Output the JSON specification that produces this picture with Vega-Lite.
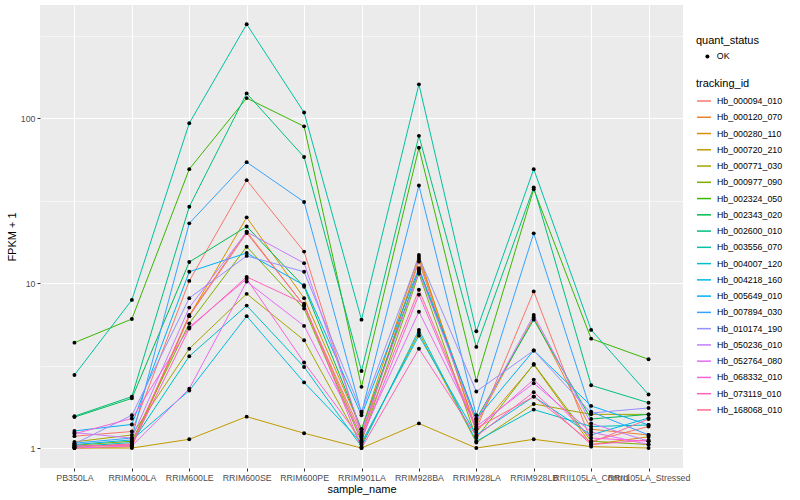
{
"$schema":"https://vega.github.io/schema/vega-lite/v6.json",
"width":643,"height":463,
"autosize":{"type":"none"},
"padding":{"left":40,"top":5,"right":117,"bottom":32},
"background":"white",
"config":{"view":{"fill":"#EBEBEB","stroke":null},"font":"Liberation Sans"},
"data":{"values":[
{"tracking_id":"Hb_000094_010","sample_name":"PB350LA","fpkm_plus_1":1.18,"quant_status":"OK"},
{"tracking_id":"Hb_000094_010","sample_name":"RRIM600LA","fpkm_plus_1":1.26,"quant_status":"OK"},
{"tracking_id":"Hb_000094_010","sample_name":"RRIM600LE","fpkm_plus_1":10.3,"quant_status":"OK"},
{"tracking_id":"Hb_000094_010","sample_name":"RRIM600SE","fpkm_plus_1":42,"quant_status":"OK"},
{"tracking_id":"Hb_000094_010","sample_name":"RRIM600PE","fpkm_plus_1":15.5,"quant_status":"OK"},
{"tracking_id":"Hb_000094_010","sample_name":"RRIM901LA","fpkm_plus_1":1.2,"quant_status":"OK"},
{"tracking_id":"Hb_000094_010","sample_name":"RRIM928BA","fpkm_plus_1":13.5,"quant_status":"OK"},
{"tracking_id":"Hb_000094_010","sample_name":"RRIM928LA","fpkm_plus_1":1.3,"quant_status":"OK"},
{"tracking_id":"Hb_000094_010","sample_name":"RRIM928LB","fpkm_plus_1":8.9,"quant_status":"OK"},
{"tracking_id":"Hb_000094_010","sample_name":"RRII105LA_Control","fpkm_plus_1":1.1,"quant_status":"OK"},
{"tracking_id":"Hb_000094_010","sample_name":"RRII105LA_Stressed","fpkm_plus_1":1.35,"quant_status":"OK"},
{"tracking_id":"Hb_000120_070","sample_name":"PB350LA","fpkm_plus_1":1.03,"quant_status":"OK"},
{"tracking_id":"Hb_000120_070","sample_name":"RRIM600LA","fpkm_plus_1":1.05,"quant_status":"OK"},
{"tracking_id":"Hb_000120_070","sample_name":"RRIM600LE","fpkm_plus_1":6.4,"quant_status":"OK"},
{"tracking_id":"Hb_000120_070","sample_name":"RRIM600SE","fpkm_plus_1":20.5,"quant_status":"OK"},
{"tracking_id":"Hb_000120_070","sample_name":"RRIM600PE","fpkm_plus_1":7.3,"quant_status":"OK"},
{"tracking_id":"Hb_000120_070","sample_name":"RRIM901LA","fpkm_plus_1":1.15,"quant_status":"OK"},
{"tracking_id":"Hb_000120_070","sample_name":"RRIM928BA","fpkm_plus_1":14.0,"quant_status":"OK"},
{"tracking_id":"Hb_000120_070","sample_name":"RRIM928LA","fpkm_plus_1":1.4,"quant_status":"OK"},
{"tracking_id":"Hb_000120_070","sample_name":"RRIM928LB","fpkm_plus_1":6.2,"quant_status":"OK"},
{"tracking_id":"Hb_000120_070","sample_name":"RRII105LA_Control","fpkm_plus_1":1.3,"quant_status":"OK"},
{"tracking_id":"Hb_000120_070","sample_name":"RRII105LA_Stressed","fpkm_plus_1":1.2,"quant_status":"OK"},
{"tracking_id":"Hb_000280_110","sample_name":"PB350LA","fpkm_plus_1":1.0,"quant_status":"OK"},
{"tracking_id":"Hb_000280_110","sample_name":"RRIM600LA","fpkm_plus_1":1.02,"quant_status":"OK"},
{"tracking_id":"Hb_000280_110","sample_name":"RRIM600LE","fpkm_plus_1":6.3,"quant_status":"OK"},
{"tracking_id":"Hb_000280_110","sample_name":"RRIM600SE","fpkm_plus_1":25,"quant_status":"OK"},
{"tracking_id":"Hb_000280_110","sample_name":"RRIM600PE","fpkm_plus_1":8.1,"quant_status":"OK"},
{"tracking_id":"Hb_000280_110","sample_name":"RRIM901LA","fpkm_plus_1":1.3,"quant_status":"OK"},
{"tracking_id":"Hb_000280_110","sample_name":"RRIM928BA","fpkm_plus_1":14.8,"quant_status":"OK"},
{"tracking_id":"Hb_000280_110","sample_name":"RRIM928LA","fpkm_plus_1":1.25,"quant_status":"OK"},
{"tracking_id":"Hb_000280_110","sample_name":"RRIM928LB","fpkm_plus_1":3.2,"quant_status":"OK"},
{"tracking_id":"Hb_000280_110","sample_name":"RRII105LA_Control","fpkm_plus_1":1.05,"quant_status":"OK"},
{"tracking_id":"Hb_000280_110","sample_name":"RRII105LA_Stressed","fpkm_plus_1":1.17,"quant_status":"OK"},
{"tracking_id":"Hb_000720_210","sample_name":"PB350LA","fpkm_plus_1":1.0,"quant_status":"OK"},
{"tracking_id":"Hb_000720_210","sample_name":"RRIM600LA","fpkm_plus_1":1.0,"quant_status":"OK"},
{"tracking_id":"Hb_000720_210","sample_name":"RRIM600LE","fpkm_plus_1":1.13,"quant_status":"OK"},
{"tracking_id":"Hb_000720_210","sample_name":"RRIM600SE","fpkm_plus_1":1.55,"quant_status":"OK"},
{"tracking_id":"Hb_000720_210","sample_name":"RRIM600PE","fpkm_plus_1":1.23,"quant_status":"OK"},
{"tracking_id":"Hb_000720_210","sample_name":"RRIM901LA","fpkm_plus_1":1.0,"quant_status":"OK"},
{"tracking_id":"Hb_000720_210","sample_name":"RRIM928BA","fpkm_plus_1":1.41,"quant_status":"OK"},
{"tracking_id":"Hb_000720_210","sample_name":"RRIM928LA","fpkm_plus_1":1.0,"quant_status":"OK"},
{"tracking_id":"Hb_000720_210","sample_name":"RRIM928LB","fpkm_plus_1":1.13,"quant_status":"OK"},
{"tracking_id":"Hb_000720_210","sample_name":"RRII105LA_Control","fpkm_plus_1":1.02,"quant_status":"OK"},
{"tracking_id":"Hb_000720_210","sample_name":"RRII105LA_Stressed","fpkm_plus_1":1.0,"quant_status":"OK"},
{"tracking_id":"Hb_000771_030","sample_name":"PB350LA","fpkm_plus_1":1.09,"quant_status":"OK"},
{"tracking_id":"Hb_000771_030","sample_name":"RRIM600LA","fpkm_plus_1":1.2,"quant_status":"OK"},
{"tracking_id":"Hb_000771_030","sample_name":"RRIM600LE","fpkm_plus_1":4.0,"quant_status":"OK"},
{"tracking_id":"Hb_000771_030","sample_name":"RRIM600SE","fpkm_plus_1":8.6,"quant_status":"OK"},
{"tracking_id":"Hb_000771_030","sample_name":"RRIM600PE","fpkm_plus_1":4.5,"quant_status":"OK"},
{"tracking_id":"Hb_000771_030","sample_name":"RRIM901LA","fpkm_plus_1":1.05,"quant_status":"OK"},
{"tracking_id":"Hb_000771_030","sample_name":"RRIM928BA","fpkm_plus_1":5.0,"quant_status":"OK"},
{"tracking_id":"Hb_000771_030","sample_name":"RRIM928LA","fpkm_plus_1":1.08,"quant_status":"OK"},
{"tracking_id":"Hb_000771_030","sample_name":"RRIM928LB","fpkm_plus_1":1.85,"quant_status":"OK"},
{"tracking_id":"Hb_000771_030","sample_name":"RRII105LA_Control","fpkm_plus_1":1.6,"quant_status":"OK"},
{"tracking_id":"Hb_000771_030","sample_name":"RRII105LA_Stressed","fpkm_plus_1":1.6,"quant_status":"OK"},
{"tracking_id":"Hb_000977_090","sample_name":"PB350LA","fpkm_plus_1":1.04,"quant_status":"OK"},
{"tracking_id":"Hb_000977_090","sample_name":"RRIM600LA","fpkm_plus_1":1.1,"quant_status":"OK"},
{"tracking_id":"Hb_000977_090","sample_name":"RRIM600LE","fpkm_plus_1":5.7,"quant_status":"OK"},
{"tracking_id":"Hb_000977_090","sample_name":"RRIM600SE","fpkm_plus_1":16.6,"quant_status":"OK"},
{"tracking_id":"Hb_000977_090","sample_name":"RRIM600PE","fpkm_plus_1":7.0,"quant_status":"OK"},
{"tracking_id":"Hb_000977_090","sample_name":"RRIM901LA","fpkm_plus_1":1.1,"quant_status":"OK"},
{"tracking_id":"Hb_000977_090","sample_name":"RRIM928BA","fpkm_plus_1":11.4,"quant_status":"OK"},
{"tracking_id":"Hb_000977_090","sample_name":"RRIM928LA","fpkm_plus_1":1.15,"quant_status":"OK"},
{"tracking_id":"Hb_000977_090","sample_name":"RRIM928LB","fpkm_plus_1":3.23,"quant_status":"OK"},
{"tracking_id":"Hb_000977_090","sample_name":"RRII105LA_Control","fpkm_plus_1":1.1,"quant_status":"OK"},
{"tracking_id":"Hb_000977_090","sample_name":"RRII105LA_Stressed","fpkm_plus_1":1.05,"quant_status":"OK"},
{"tracking_id":"Hb_002324_050","sample_name":"PB350LA","fpkm_plus_1":4.35,"quant_status":"OK"},
{"tracking_id":"Hb_002324_050","sample_name":"RRIM600LA","fpkm_plus_1":6.05,"quant_status":"OK"},
{"tracking_id":"Hb_002324_050","sample_name":"RRIM600LE","fpkm_plus_1":49,"quant_status":"OK"},
{"tracking_id":"Hb_002324_050","sample_name":"RRIM600SE","fpkm_plus_1":132,"quant_status":"OK"},
{"tracking_id":"Hb_002324_050","sample_name":"RRIM600PE","fpkm_plus_1":89,"quant_status":"OK"},
{"tracking_id":"Hb_002324_050","sample_name":"RRIM901LA","fpkm_plus_1":2.35,"quant_status":"OK"},
{"tracking_id":"Hb_002324_050","sample_name":"RRIM928BA","fpkm_plus_1":66,"quant_status":"OK"},
{"tracking_id":"Hb_002324_050","sample_name":"RRIM928LA","fpkm_plus_1":2.56,"quant_status":"OK"},
{"tracking_id":"Hb_002324_050","sample_name":"RRIM928LB","fpkm_plus_1":37,"quant_status":"OK"},
{"tracking_id":"Hb_002324_050","sample_name":"RRII105LA_Control","fpkm_plus_1":4.6,"quant_status":"OK"},
{"tracking_id":"Hb_002324_050","sample_name":"RRII105LA_Stressed","fpkm_plus_1":3.45,"quant_status":"OK"},
{"tracking_id":"Hb_002343_020","sample_name":"PB350LA","fpkm_plus_1":1.54,"quant_status":"OK"},
{"tracking_id":"Hb_002343_020","sample_name":"RRIM600LA","fpkm_plus_1":2.0,"quant_status":"OK"},
{"tracking_id":"Hb_002343_020","sample_name":"RRIM600LE","fpkm_plus_1":13.4,"quant_status":"OK"},
{"tracking_id":"Hb_002343_020","sample_name":"RRIM600SE","fpkm_plus_1":22,"quant_status":"OK"},
{"tracking_id":"Hb_002343_020","sample_name":"RRIM600PE","fpkm_plus_1":9.5,"quant_status":"OK"},
{"tracking_id":"Hb_002343_020","sample_name":"RRIM901LA","fpkm_plus_1":1.3,"quant_status":"OK"},
{"tracking_id":"Hb_002343_020","sample_name":"RRIM928BA","fpkm_plus_1":12.0,"quant_status":"OK"},
{"tracking_id":"Hb_002343_020","sample_name":"RRIM928LA","fpkm_plus_1":1.5,"quant_status":"OK"},
{"tracking_id":"Hb_002343_020","sample_name":"RRIM928LB","fpkm_plus_1":6.0,"quant_status":"OK"},
{"tracking_id":"Hb_002343_020","sample_name":"RRII105LA_Control","fpkm_plus_1":1.5,"quant_status":"OK"},
{"tracking_id":"Hb_002343_020","sample_name":"RRII105LA_Stressed","fpkm_plus_1":1.6,"quant_status":"OK"},
{"tracking_id":"Hb_002600_010","sample_name":"PB350LA","fpkm_plus_1":1.56,"quant_status":"OK"},
{"tracking_id":"Hb_002600_010","sample_name":"RRIM600LA","fpkm_plus_1":2.05,"quant_status":"OK"},
{"tracking_id":"Hb_002600_010","sample_name":"RRIM600LE","fpkm_plus_1":29,"quant_status":"OK"},
{"tracking_id":"Hb_002600_010","sample_name":"RRIM600SE","fpkm_plus_1":141,"quant_status":"OK"},
{"tracking_id":"Hb_002600_010","sample_name":"RRIM600PE","fpkm_plus_1":58,"quant_status":"OK"},
{"tracking_id":"Hb_002600_010","sample_name":"RRIM901LA","fpkm_plus_1":2.93,"quant_status":"OK"},
{"tracking_id":"Hb_002600_010","sample_name":"RRIM928BA","fpkm_plus_1":78,"quant_status":"OK"},
{"tracking_id":"Hb_002600_010","sample_name":"RRIM928LA","fpkm_plus_1":4.1,"quant_status":"OK"},
{"tracking_id":"Hb_002600_010","sample_name":"RRIM928LB","fpkm_plus_1":38,"quant_status":"OK"},
{"tracking_id":"Hb_002600_010","sample_name":"RRII105LA_Control","fpkm_plus_1":2.4,"quant_status":"OK"},
{"tracking_id":"Hb_002600_010","sample_name":"RRII105LA_Stressed","fpkm_plus_1":1.88,"quant_status":"OK"},
{"tracking_id":"Hb_003556_070","sample_name":"PB350LA","fpkm_plus_1":2.77,"quant_status":"OK"},
{"tracking_id":"Hb_003556_070","sample_name":"RRIM600LA","fpkm_plus_1":7.9,"quant_status":"OK"},
{"tracking_id":"Hb_003556_070","sample_name":"RRIM600LE","fpkm_plus_1":93,"quant_status":"OK"},
{"tracking_id":"Hb_003556_070","sample_name":"RRIM600SE","fpkm_plus_1":370,"quant_status":"OK"},
{"tracking_id":"Hb_003556_070","sample_name":"RRIM600PE","fpkm_plus_1":108,"quant_status":"OK"},
{"tracking_id":"Hb_003556_070","sample_name":"RRIM901LA","fpkm_plus_1":6.0,"quant_status":"OK"},
{"tracking_id":"Hb_003556_070","sample_name":"RRIM928BA","fpkm_plus_1":160,"quant_status":"OK"},
{"tracking_id":"Hb_003556_070","sample_name":"RRIM928LA","fpkm_plus_1":5.1,"quant_status":"OK"},
{"tracking_id":"Hb_003556_070","sample_name":"RRIM928LB","fpkm_plus_1":49,"quant_status":"OK"},
{"tracking_id":"Hb_003556_070","sample_name":"RRII105LA_Control","fpkm_plus_1":5.2,"quant_status":"OK"},
{"tracking_id":"Hb_003556_070","sample_name":"RRII105LA_Stressed","fpkm_plus_1":2.11,"quant_status":"OK"},
{"tracking_id":"Hb_004007_120","sample_name":"PB350LA","fpkm_plus_1":1.02,"quant_status":"OK"},
{"tracking_id":"Hb_004007_120","sample_name":"RRIM600LA","fpkm_plus_1":1.08,"quant_status":"OK"},
{"tracking_id":"Hb_004007_120","sample_name":"RRIM600LE","fpkm_plus_1":3.6,"quant_status":"OK"},
{"tracking_id":"Hb_004007_120","sample_name":"RRIM600SE","fpkm_plus_1":7.3,"quant_status":"OK"},
{"tracking_id":"Hb_004007_120","sample_name":"RRIM600PE","fpkm_plus_1":3.1,"quant_status":"OK"},
{"tracking_id":"Hb_004007_120","sample_name":"RRIM901LA","fpkm_plus_1":1.02,"quant_status":"OK"},
{"tracking_id":"Hb_004007_120","sample_name":"RRIM928BA","fpkm_plus_1":5.2,"quant_status":"OK"},
{"tracking_id":"Hb_004007_120","sample_name":"RRIM928LA","fpkm_plus_1":1.1,"quant_status":"OK"},
{"tracking_id":"Hb_004007_120","sample_name":"RRIM928LB","fpkm_plus_1":1.71,"quant_status":"OK"},
{"tracking_id":"Hb_004007_120","sample_name":"RRII105LA_Control","fpkm_plus_1":1.35,"quant_status":"OK"},
{"tracking_id":"Hb_004007_120","sample_name":"RRII105LA_Stressed","fpkm_plus_1":1.38,"quant_status":"OK"},
{"tracking_id":"Hb_004218_160","sample_name":"PB350LA","fpkm_plus_1":1.05,"quant_status":"OK"},
{"tracking_id":"Hb_004218_160","sample_name":"RRIM600LA","fpkm_plus_1":1.12,"quant_status":"OK"},
{"tracking_id":"Hb_004218_160","sample_name":"RRIM600LE","fpkm_plus_1":2.23,"quant_status":"OK"},
{"tracking_id":"Hb_004218_160","sample_name":"RRIM600SE","fpkm_plus_1":6.3,"quant_status":"OK"},
{"tracking_id":"Hb_004218_160","sample_name":"RRIM600PE","fpkm_plus_1":2.5,"quant_status":"OK"},
{"tracking_id":"Hb_004218_160","sample_name":"RRIM901LA","fpkm_plus_1":1.08,"quant_status":"OK"},
{"tracking_id":"Hb_004218_160","sample_name":"RRIM928BA","fpkm_plus_1":4.8,"quant_status":"OK"},
{"tracking_id":"Hb_004218_160","sample_name":"RRIM928LA","fpkm_plus_1":1.2,"quant_status":"OK"},
{"tracking_id":"Hb_004218_160","sample_name":"RRIM928LB","fpkm_plus_1":2.05,"quant_status":"OK"},
{"tracking_id":"Hb_004218_160","sample_name":"RRII105LA_Control","fpkm_plus_1":1.2,"quant_status":"OK"},
{"tracking_id":"Hb_004218_160","sample_name":"RRII105LA_Stressed","fpkm_plus_1":1.52,"quant_status":"OK"},
{"tracking_id":"Hb_005649_010","sample_name":"PB350LA","fpkm_plus_1":1.27,"quant_status":"OK"},
{"tracking_id":"Hb_005649_010","sample_name":"RRIM600LA","fpkm_plus_1":1.39,"quant_status":"OK"},
{"tracking_id":"Hb_005649_010","sample_name":"RRIM600LE","fpkm_plus_1":11.7,"quant_status":"OK"},
{"tracking_id":"Hb_005649_010","sample_name":"RRIM600SE","fpkm_plus_1":15.2,"quant_status":"OK"},
{"tracking_id":"Hb_005649_010","sample_name":"RRIM600PE","fpkm_plus_1":9.7,"quant_status":"OK"},
{"tracking_id":"Hb_005649_010","sample_name":"RRIM901LA","fpkm_plus_1":1.58,"quant_status":"OK"},
{"tracking_id":"Hb_005649_010","sample_name":"RRIM928BA","fpkm_plus_1":12.3,"quant_status":"OK"},
{"tracking_id":"Hb_005649_010","sample_name":"RRIM928LA","fpkm_plus_1":1.5,"quant_status":"OK"},
{"tracking_id":"Hb_005649_010","sample_name":"RRIM928LB","fpkm_plus_1":3.9,"quant_status":"OK"},
{"tracking_id":"Hb_005649_010","sample_name":"RRII105LA_Control","fpkm_plus_1":1.8,"quant_status":"OK"},
{"tracking_id":"Hb_005649_010","sample_name":"RRII105LA_Stressed","fpkm_plus_1":1.38,"quant_status":"OK"},
{"tracking_id":"Hb_007894_030","sample_name":"PB350LA","fpkm_plus_1":1.07,"quant_status":"OK"},
{"tracking_id":"Hb_007894_030","sample_name":"RRIM600LA","fpkm_plus_1":1.15,"quant_status":"OK"},
{"tracking_id":"Hb_007894_030","sample_name":"RRIM600LE","fpkm_plus_1":23,"quant_status":"OK"},
{"tracking_id":"Hb_007894_030","sample_name":"RRIM600SE","fpkm_plus_1":54,"quant_status":"OK"},
{"tracking_id":"Hb_007894_030","sample_name":"RRIM600PE","fpkm_plus_1":31,"quant_status":"OK"},
{"tracking_id":"Hb_007894_030","sample_name":"RRIM901LA","fpkm_plus_1":1.63,"quant_status":"OK"},
{"tracking_id":"Hb_007894_030","sample_name":"RRIM928BA","fpkm_plus_1":39,"quant_status":"OK"},
{"tracking_id":"Hb_007894_030","sample_name":"RRIM928LA","fpkm_plus_1":1.58,"quant_status":"OK"},
{"tracking_id":"Hb_007894_030","sample_name":"RRIM928LB","fpkm_plus_1":20,"quant_status":"OK"},
{"tracking_id":"Hb_007894_030","sample_name":"RRII105LA_Control","fpkm_plus_1":1.66,"quant_status":"OK"},
{"tracking_id":"Hb_007894_030","sample_name":"RRII105LA_Stressed","fpkm_plus_1":1.2,"quant_status":"OK"},
{"tracking_id":"Hb_010174_190","sample_name":"PB350LA","fpkm_plus_1":1.06,"quant_status":"OK"},
{"tracking_id":"Hb_010174_190","sample_name":"RRIM600LA","fpkm_plus_1":1.58,"quant_status":"OK"},
{"tracking_id":"Hb_010174_190","sample_name":"RRIM600LE","fpkm_plus_1":8.1,"quant_status":"OK"},
{"tracking_id":"Hb_010174_190","sample_name":"RRIM600SE","fpkm_plus_1":14.6,"quant_status":"OK"},
{"tracking_id":"Hb_010174_190","sample_name":"RRIM600PE","fpkm_plus_1":11.7,"quant_status":"OK"},
{"tracking_id":"Hb_010174_190","sample_name":"RRIM901LA","fpkm_plus_1":1.66,"quant_status":"OK"},
{"tracking_id":"Hb_010174_190","sample_name":"RRIM928BA","fpkm_plus_1":14.4,"quant_status":"OK"},
{"tracking_id":"Hb_010174_190","sample_name":"RRIM928LA","fpkm_plus_1":2.2,"quant_status":"OK"},
{"tracking_id":"Hb_010174_190","sample_name":"RRIM928LB","fpkm_plus_1":3.9,"quant_status":"OK"},
{"tracking_id":"Hb_010174_190","sample_name":"RRII105LA_Control","fpkm_plus_1":1.63,"quant_status":"OK"},
{"tracking_id":"Hb_010174_190","sample_name":"RRII105LA_Stressed","fpkm_plus_1":1.75,"quant_status":"OK"},
{"tracking_id":"Hb_050236_010","sample_name":"PB350LA","fpkm_plus_1":1.24,"quant_status":"OK"},
{"tracking_id":"Hb_050236_010","sample_name":"RRIM600LA","fpkm_plus_1":1.15,"quant_status":"OK"},
{"tracking_id":"Hb_050236_010","sample_name":"RRIM600LE","fpkm_plus_1":7.1,"quant_status":"OK"},
{"tracking_id":"Hb_050236_010","sample_name":"RRIM600SE","fpkm_plus_1":20.4,"quant_status":"OK"},
{"tracking_id":"Hb_050236_010","sample_name":"RRIM600PE","fpkm_plus_1":13.2,"quant_status":"OK"},
{"tracking_id":"Hb_050236_010","sample_name":"RRIM901LA","fpkm_plus_1":1.25,"quant_status":"OK"},
{"tracking_id":"Hb_050236_010","sample_name":"RRIM928BA","fpkm_plus_1":11.7,"quant_status":"OK"},
{"tracking_id":"Hb_050236_010","sample_name":"RRIM928LA","fpkm_plus_1":1.45,"quant_status":"OK"},
{"tracking_id":"Hb_050236_010","sample_name":"RRIM928LB","fpkm_plus_1":6.4,"quant_status":"OK"},
{"tracking_id":"Hb_050236_010","sample_name":"RRII105LA_Control","fpkm_plus_1":1.41,"quant_status":"OK"},
{"tracking_id":"Hb_050236_010","sample_name":"RRII105LA_Stressed","fpkm_plus_1":1.1,"quant_status":"OK"},
{"tracking_id":"Hb_052764_080","sample_name":"PB350LA","fpkm_plus_1":1.0,"quant_status":"OK"},
{"tracking_id":"Hb_052764_080","sample_name":"RRIM600LA","fpkm_plus_1":1.03,"quant_status":"OK"},
{"tracking_id":"Hb_052764_080","sample_name":"RRIM600LE","fpkm_plus_1":2.29,"quant_status":"OK"},
{"tracking_id":"Hb_052764_080","sample_name":"RRIM600SE","fpkm_plus_1":10.2,"quant_status":"OK"},
{"tracking_id":"Hb_052764_080","sample_name":"RRIM600PE","fpkm_plus_1":5.5,"quant_status":"OK"},
{"tracking_id":"Hb_052764_080","sample_name":"RRIM901LA","fpkm_plus_1":1.18,"quant_status":"OK"},
{"tracking_id":"Hb_052764_080","sample_name":"RRIM928BA","fpkm_plus_1":6.7,"quant_status":"OK"},
{"tracking_id":"Hb_052764_080","sample_name":"RRIM928LA","fpkm_plus_1":1.35,"quant_status":"OK"},
{"tracking_id":"Hb_052764_080","sample_name":"RRIM928LB","fpkm_plus_1":2.47,"quant_status":"OK"},
{"tracking_id":"Hb_052764_080","sample_name":"RRII105LA_Control","fpkm_plus_1":1.25,"quant_status":"OK"},
{"tracking_id":"Hb_052764_080","sample_name":"RRII105LA_Stressed","fpkm_plus_1":1.05,"quant_status":"OK"},
{"tracking_id":"Hb_068332_010","sample_name":"PB350LA","fpkm_plus_1":1.22,"quant_status":"OK"},
{"tracking_id":"Hb_068332_010","sample_name":"RRIM600LA","fpkm_plus_1":1.51,"quant_status":"OK"},
{"tracking_id":"Hb_068332_010","sample_name":"RRIM600LE","fpkm_plus_1":5.4,"quant_status":"OK"},
{"tracking_id":"Hb_068332_010","sample_name":"RRIM600SE","fpkm_plus_1":10.6,"quant_status":"OK"},
{"tracking_id":"Hb_068332_010","sample_name":"RRIM600PE","fpkm_plus_1":3.3,"quant_status":"OK"},
{"tracking_id":"Hb_068332_010","sample_name":"RRIM901LA","fpkm_plus_1":1.12,"quant_status":"OK"},
{"tracking_id":"Hb_068332_010","sample_name":"RRIM928BA","fpkm_plus_1":8.5,"quant_status":"OK"},
{"tracking_id":"Hb_068332_010","sample_name":"RRIM928LA","fpkm_plus_1":1.29,"quant_status":"OK"},
{"tracking_id":"Hb_068332_010","sample_name":"RRIM928LB","fpkm_plus_1":2.6,"quant_status":"OK"},
{"tracking_id":"Hb_068332_010","sample_name":"RRII105LA_Control","fpkm_plus_1":1.15,"quant_status":"OK"},
{"tracking_id":"Hb_068332_010","sample_name":"RRII105LA_Stressed","fpkm_plus_1":1.1,"quant_status":"OK"},
{"tracking_id":"Hb_073119_010","sample_name":"PB350LA","fpkm_plus_1":1.03,"quant_status":"OK"},
{"tracking_id":"Hb_073119_010","sample_name":"RRIM600LA","fpkm_plus_1":1.04,"quant_status":"OK"},
{"tracking_id":"Hb_073119_010","sample_name":"RRIM600LE","fpkm_plus_1":5.3,"quant_status":"OK"},
{"tracking_id":"Hb_073119_010","sample_name":"RRIM600SE","fpkm_plus_1":10.9,"quant_status":"OK"},
{"tracking_id":"Hb_073119_010","sample_name":"RRIM600PE","fpkm_plus_1":7.5,"quant_status":"OK"},
{"tracking_id":"Hb_073119_010","sample_name":"RRIM901LA","fpkm_plus_1":1.0,"quant_status":"OK"},
{"tracking_id":"Hb_073119_010","sample_name":"RRIM928BA","fpkm_plus_1":4.0,"quant_status":"OK"},
{"tracking_id":"Hb_073119_010","sample_name":"RRIM928LA","fpkm_plus_1":1.18,"quant_status":"OK"},
{"tracking_id":"Hb_073119_010","sample_name":"RRIM928LB","fpkm_plus_1":2.18,"quant_status":"OK"},
{"tracking_id":"Hb_073119_010","sample_name":"RRII105LA_Control","fpkm_plus_1":1.05,"quant_status":"OK"},
{"tracking_id":"Hb_073119_010","sample_name":"RRII105LA_Stressed","fpkm_plus_1":1.12,"quant_status":"OK"},
{"tracking_id":"Hb_168068_010","sample_name":"PB350LA","fpkm_plus_1":1.01,"quant_status":"OK"},
{"tracking_id":"Hb_168068_010","sample_name":"RRIM600LA","fpkm_plus_1":1.06,"quant_status":"OK"},
{"tracking_id":"Hb_168068_010","sample_name":"RRIM600LE","fpkm_plus_1":6.3,"quant_status":"OK"},
{"tracking_id":"Hb_168068_010","sample_name":"RRIM600SE","fpkm_plus_1":20.1,"quant_status":"OK"},
{"tracking_id":"Hb_168068_010","sample_name":"RRIM600PE","fpkm_plus_1":7.3,"quant_status":"OK"},
{"tracking_id":"Hb_168068_010","sample_name":"RRIM901LA","fpkm_plus_1":1.22,"quant_status":"OK"},
{"tracking_id":"Hb_168068_010","sample_name":"RRIM928BA","fpkm_plus_1":9.1,"quant_status":"OK"},
{"tracking_id":"Hb_168068_010","sample_name":"RRIM928LA","fpkm_plus_1":1.32,"quant_status":"OK"},
{"tracking_id":"Hb_168068_010","sample_name":"RRIM928LB","fpkm_plus_1":2.05,"quant_status":"OK"},
{"tracking_id":"Hb_168068_010","sample_name":"RRII105LA_Control","fpkm_plus_1":1.08,"quant_status":"OK"},
{"tracking_id":"Hb_168068_010","sample_name":"RRII105LA_Stressed","fpkm_plus_1":1.5,"quant_status":"OK"}
]},
"encoding":{
"x":{"field":"sample_name","type":"nominal","title":"sample_name",
"scale":{"type":"point","padding":0.6,"domain":["PB350LA","RRIM600LA","RRIM600LE","RRIM600SE","RRIM600PE","RRIM901LA","RRIM928BA","RRIM928LA","RRIM928LB","RRII105LA_Control","RRII105LA_Stressed"]},
"axis":{"labelAngle":0,"labelOverlap":false,"labelBound":false,"labelFlush":false,"domain":false,"grid":true,"gridColor":"white","gridWidth":1.1,"tickColor":"#333333","tickSize":3,"tickWidth":1,"labelColor":"#4D4D4D","labelFontSize":8.8,"labelPadding":2,"titleFontSize":11,"titleFontWeight":"normal","titleColor":"black","titlePadding":2}},
"y":{"field":"fpkm_plus_1","type":"quantitative","title":"FPKM + 1",
"scale":{"type":"log","domain":[0.757,484],"nice":false},
"axis":{"values":[1,3.1623,10,31.623,100,316.23],"format":"d",
"labelExpr":"(datum.value==1||datum.value==10||datum.value==100)?datum.label:''",
"domain":false,"grid":true,"gridColor":"white",
"gridWidth":{"condition":{"test":"datum.value==1||datum.value==10||datum.value==100","value":1.1},"value":0.55},
"tickOpacity":{"condition":{"test":"datum.value==1||datum.value==10||datum.value==100","value":1},"value":0},
"tickColor":"#333333","tickSize":3,"tickWidth":1,"labelColor":"#4D4D4D","labelFontSize":8.8,"labelPadding":2,"titleFontSize":11,"titleFontWeight":"normal","titleColor":"black","titlePadding":3}}
},
"layer":[
{"mark":{"type":"line","strokeWidth":1},
"encoding":{"color":{"field":"tracking_id","type":"nominal","title":"tracking_id",
"scale":{"domain":["Hb_000094_010","Hb_000120_070","Hb_000280_110","Hb_000720_210","Hb_000771_030","Hb_000977_090","Hb_002324_050","Hb_002343_020","Hb_002600_010","Hb_003556_070","Hb_004007_120","Hb_004218_160","Hb_005649_010","Hb_007894_030","Hb_010174_190","Hb_050236_010","Hb_052764_080","Hb_068332_010","Hb_073119_010","Hb_168068_010"],
"range":["#F8766D","#EA8331","#D89000","#C09B00","#A3A500","#7CAE00","#39B600","#00BB4E","#00BF7D","#00C1A3","#00BFC4","#00BAE0","#00B0F6","#35A2FF","#9590FF","#C77CFF","#E76BF3","#FA62DB","#FF62BC","#FF6C91"]},
"legend":{"orient":"none","legendX":656,"legendY":73,"symbolType":"stroke","symbolSize":196,"symbolStrokeWidth":1.5,"rowPadding":3.26,"labelOffset":5,"labelFontSize":8.8,"labelColor":"black","titleFontSize":11,"titleFontWeight":"normal","titleColor":"black","titlePadding":4,"padding":0,"offset":0}}}},
{"mark":{"type":"point","filled":true,"color":"black","size":15,"opacity":1},
"encoding":{"shape":{"field":"quant_status","type":"nominal","title":"quant_status","scale":{"range":["circle"]},
"legend":{"orient":"none","legendX":656,"legendY":30,"symbolFillColor":"black","symbolStrokeColor":"black","symbolSize":16,"labelOffset":5,"labelFontSize":8.8,"labelColor":"black","titleFontSize":11,"titleFontWeight":"normal","titleColor":"black","titlePadding":6,"padding":0,"offset":0,"symbolOffset":7}}}}
]
}
